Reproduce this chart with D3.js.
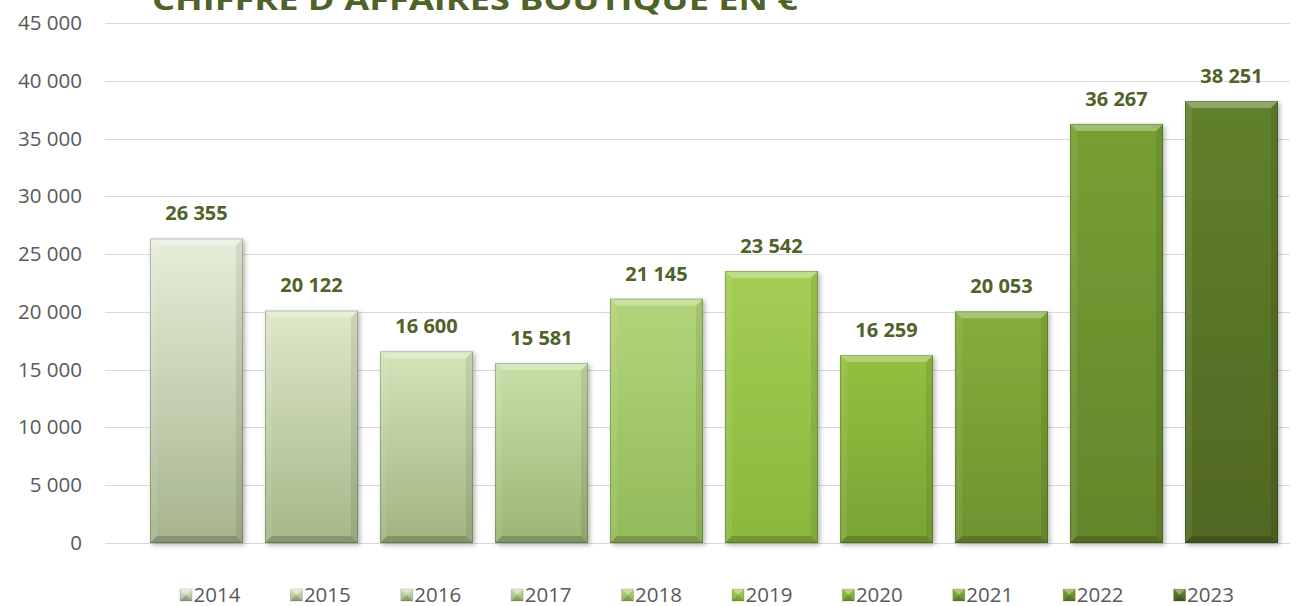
<!DOCTYPE html>
<html><head><meta charset="utf-8">
<script src="https://cdn.jsdelivr.net/npm/d3@7"></script>
<style>html,body{margin:0;padding:0;background:#fff;}svg{display:block;}</style>
</head><body>
<svg id="chart" width="1302" height="606"></svg>
<script>
const years = ["2014","2015","2016","2017","2018","2019","2020","2021","2022","2023"];
const values = [26355, 20122, 16600, 15581, 21145, 23542, 16259, 20053, 36267, 38251];
const yTicks = [0, 5000, 10000, 15000, 20000, 25000, 30000, 35000, 40000, 45000];
const title = "CHIFFRE D'AFFAIRES BOUTIQUE EN €";
const topColors = ["#e6eed9","#dde8c8","#d3e4b9","#c8e0a6","#b2d579","#a4cd55","#93c03e","#86ae3a","#789f33","#62802b"];
const bottomColors = ["#a6b48d","#a5b688","#a0b480","#9bb575","#93ba5a","#8ab83c","#7aa434","#6e922f","#63852b","#4f6822"];

const svg = d3.select("#chart");
const fmt = v => d3.format(",")(v).replace(/,/g, " ");

const y = d3.scaleLinear().domain([0, 45000]).range([543, 23]);
const x = d3.scaleBand().domain(years).range([139, 1289]).paddingInner(22/115).paddingOuter(11/115);

const defs = svg.append("defs");
years.forEach((yr, i) => {
  const g = defs.append("linearGradient").attr("id", "g" + i).attr("x1", 0).attr("y1", 0).attr("x2", 0).attr("y2", 1);
  g.append("stop").attr("offset", "0%").attr("stop-color", topColors[i]);
  g.append("stop").attr("offset", "100%").attr("stop-color", bottomColors[i]);
});
const shadow = defs.append("filter").attr("id", "sh").attr("x", "-10%").attr("y", "-10%").attr("width", "130%").attr("height", "130%");
shadow.append("feGaussianBlur").attr("in", "SourceAlpha").attr("stdDeviation", 2.5).attr("result", "b");
shadow.append("feOffset").attr("in", "b").attr("dx", 2).attr("dy", 2).attr("result", "o");
shadow.append("feComponentTransfer").attr("in", "o").attr("result", "o2")
  .append("feFuncA").attr("type", "linear").attr("slope", 0.3);
const mg = shadow.append("feMerge");
mg.append("feMergeNode").attr("in", "o2");
mg.append("feMergeNode").attr("in", "SourceGraphic");

// title (cut off at the top edge, as in the reference)
svg.append("text").attr("x", 152).attr("y", 10)
  .attr("font-family", "'Open Sans', sans-serif").attr("font-weight", 700).attr("font-size", 29)
  .attr("fill", "#4f6228").attr("textLength", 646).attr("lengthAdjust", "spacingAndGlyphs")
  .text(title);

// grid
svg.append("g").selectAll("line").data(yTicks).join("line")
  .attr("x1", 105).attr("x2", 1290)
  .attr("y1", d => Math.round(y(d)) + 0.5).attr("y2", d => Math.round(y(d)) + 0.5)
  .attr("stroke", "#d9d9d9").attr("stroke-width", 1);

// y labels
svg.append("g").selectAll("text").data(yTicks).join("text")
  .attr("x", 82).attr("y", d => y(d) + 7)
  .attr("text-anchor", "end")
  .attr("font-family", "'Open Sans', sans-serif").attr("font-size", 20.5).attr("fill", "#595959")
  .text(d => fmt(d));

// bars
const bv = 7;
const bars = svg.append("g").selectAll("g").data(years).join("g").attr("filter", "url(#sh)");
bars.each(function(yr, i) {
  const g = d3.select(this);
  const x0 = x(yr), w = x.bandwidth(), y0 = y(values[i]), y1 = y(0), h = y1 - y0;
  g.append("rect").attr("x", x0).attr("y", y0).attr("width", w).attr("height", h).attr("fill", `url(#g${i})`);
  g.append("polygon").attr("points", [[x0, y0], [x0 + w, y0], [x0 + w - bv, y0 + bv], [x0 + bv, y0 + bv]].join(" "))
    .attr("fill", "#ffffff").attr("opacity", 0.3);
  g.append("polygon").attr("points", [[x0, y0], [x0 + bv, y0 + bv], [x0 + bv, y1 - bv], [x0, y1]].join(" "))
    .attr("fill", "#ffffff").attr("opacity", 0.08);
  g.append("polygon").attr("points", [[x0 + w, y0], [x0 + w - bv, y0 + bv], [x0 + w - bv, y1 - bv], [x0 + w, y1]].join(" "))
    .attr("fill", "#000000").attr("opacity", 0.08);
  g.append("polygon").attr("points", [[x0, y1], [x0 + bv, y1 - bv], [x0 + w - bv, y1 - bv], [x0 + w, y1]].join(" "))
    .attr("fill", "#000000").attr("opacity", 0.18);
  g.append("rect").attr("x", x0 + 0.5).attr("y", y0 + 0.5).attr("width", w - 1).attr("height", h - 1)
    .attr("fill", "none").attr("stroke", "#000").attr("stroke-opacity", 0.2);
});

// data labels
svg.append("g").selectAll("text").data(years).join("text")
  .attr("x", d => x(d) + x.bandwidth() / 2).attr("y", (d, i) => y(values[i]) - 18)
  .attr("text-anchor", "middle")
  .attr("font-family", "'Open Sans', sans-serif").attr("font-weight", 700).attr("font-size", 20)
  .attr("fill", "#4f6228")
  .text((d, i) => fmt(values[i]));

// legend
const lg = svg.append("g").selectAll("g").data(years).join("g")
  .attr("transform", (d, i) => `translate(${180 + i * 110.4},589)`);
lg.append("rect").attr("width", 12).attr("height", 12).attr("fill", (d, i) => `url(#g${i})`)
  .attr("stroke", "#000").attr("stroke-opacity", 0.15);
lg.append("polygon").attr("points", "0,0 12,0 6,6").attr("fill", "#fff").attr("opacity", 0.35);
lg.append("polygon").attr("points", "0,12 12,12 6,6").attr("fill", "#000").attr("opacity", 0.15);
lg.append("text").attr("x", 13.5).attr("y", 12.5)
  .attr("font-family", "'Open Sans', sans-serif").attr("font-size", 20.5).attr("fill", "#595959")
  .text(d => d);
</script>
</body></html>
